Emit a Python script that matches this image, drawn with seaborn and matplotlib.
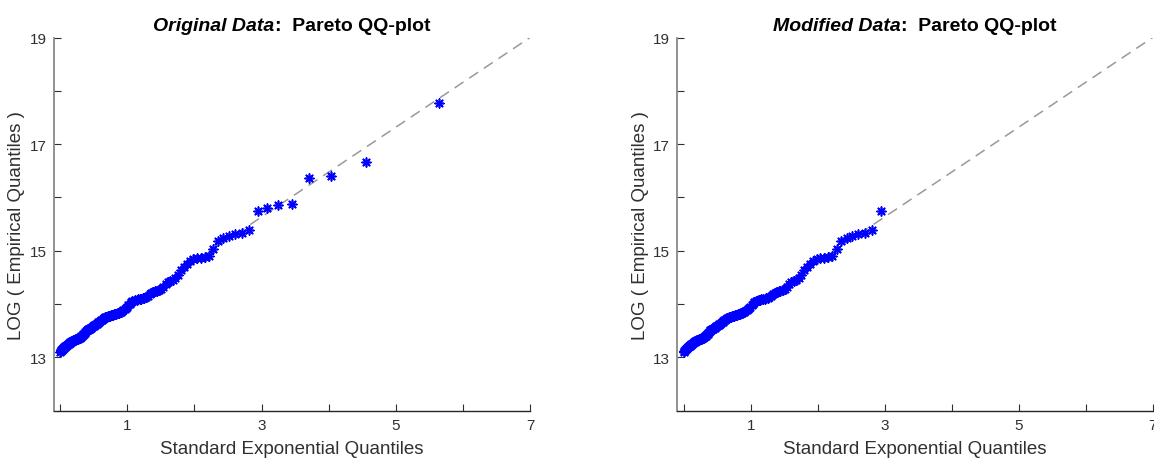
import numpy as np
import pandas as pd
import matplotlib
matplotlib.use('Agg')
import matplotlib.pyplot as plt
import seaborn as sns
from matplotlib.offsetbox import TextArea, HPacker, AnchoredOffsetbox

# sorted log values of the sample
log_values = [
    13.10, 13.12, 13.13, 13.14, 13.15, 13.16, 13.17, 13.18, 13.19, 13.20,
    13.21, 13.22, 13.22, 13.23, 13.24, 13.25, 13.26, 13.27, 13.27, 13.28,
    13.29, 13.29, 13.30, 13.31, 13.31, 13.32, 13.32, 13.33, 13.33, 13.34,
    13.34, 13.35, 13.35, 13.36, 13.36, 13.37, 13.38, 13.39, 13.40, 13.41,
    13.42, 13.43, 13.44, 13.46, 13.48, 13.50, 13.51, 13.52, 13.53, 13.54,
    13.54, 13.55, 13.56, 13.57, 13.58, 13.59, 13.60, 13.61, 13.62, 13.63,
    13.64, 13.66, 13.67, 13.68, 13.70, 13.71, 13.72, 13.73, 13.74, 13.75,
    13.76, 13.76, 13.77, 13.78, 13.78, 13.79, 13.80, 13.80, 13.81, 13.82,
    13.82, 13.83, 13.84, 13.85, 13.86, 13.87, 13.88, 13.90, 13.92, 13.95,
    13.98, 14.01, 14.03, 14.05, 14.06, 14.07, 14.08, 14.09, 14.10, 14.10,
    14.11, 14.12, 14.13, 14.15, 14.18, 14.21, 14.23, 14.24, 14.25, 14.26,
    14.28, 14.32, 14.37, 14.41, 14.43, 14.45, 14.48, 14.55, 14.63, 14.70,
    14.76, 14.81, 14.84, 14.86, 14.87, 14.88, 14.90, 15.03, 15.18, 15.24,
    15.28, 15.31, 15.34, 15.38, 15.74, 15.81, 15.86, 15.87, 16.37, 16.41,
    16.66, 17.78,
]
n_modified = 135  # modified data drops the 7 largest values

# reference line end points
ref_x = [0, 7]
ref_y = [13.11, 19.0]

titles = ['Original Data', 'Modified Data']
x_ticks = list(range(0, 8))
x_labels = ['', '1', '', '3', '', '5', '', '7']
y_ticks = list(range(13, 20))
y_labels = ['13', '', '15', '', '17', '', '19']

# standard exponential quantiles at plotting positions (i - 0.5) / n
n = len(log_values)
p = (np.arange(1, n + 1) - 0.5) / n
exp_q = -np.log(1 - p)

df = pd.DataFrame({'x': exp_q, 'y': log_values})
data_sets = [df, df.iloc[:n_modified]]

sns.set_theme(style='white')
plt.rcParams['font.family'] = ['Liberation Sans', 'DejaVu Sans']

fig = plt.figure(figsize=(11.54, 4.6), dpi=100)
positions = [[0.0464, 0.105, 0.4129, 0.8113], [0.5867, 0.105, 0.4121, 0.8113]]
text_col = '#303030'

for pos, title, d in zip(positions, titles, data_sets):
    ax = fig.add_axes(pos)
    ax.plot(ref_x, ref_y, color='#999999', lw=1.1, dashes=(7, 4.5), zorder=1)
    sns.scatterplot(data=d, x='x', y='y', ax=ax, marker=(8, 2, 0), s=40,
                    color='blue', edgecolor='blue', linewidth=1.2, zorder=2)
    ax.set_xlim(-0.1, 7)
    ax.set_ylim(12, 19)
    ax.set_xticks(x_ticks)
    ax.set_xticklabels(x_labels)
    ax.set_yticks(y_ticks)
    ax.set_yticklabels(y_labels)
    ax.tick_params(direction='in', length=5, width=0.8, colors=text_col,
                   labelsize=11, bottom=True, left=True)
    ax.tick_params(axis='x', pad=5)
    ax.tick_params(axis='y', pad=5)
    for s in ['top', 'right']:
        ax.spines[s].set_visible(False)
    ax.spines['left'].set_color('#7f7f7f')
    ax.spines['left'].set_linewidth(1.2)
    ax.spines['bottom'].set_color('#262626')
    ax.spines['bottom'].set_linewidth(1.0)
    ax.set_xlabel('Standard Exponential Quantiles', fontsize=13.5,
                  color=text_col, labelpad=6)
    ax.set_ylabel('LOG ( Empirical Quantiles )', fontsize=13.5,
                  color=text_col, labelpad=3)

    t1 = TextArea(title, textprops=dict(fontsize=14, fontweight='bold',
                                        fontstyle='italic', color='black'))
    t2 = TextArea(':  Pareto QQ-plot', textprops=dict(fontsize=14,
                                                      fontweight='bold',
                                                      color='black'))
    box = HPacker(children=[t1, t2], align='baseline', pad=0, sep=0)
    anchored = AnchoredOffsetbox(loc='lower center', child=box, pad=0,
                                 frameon=False, bbox_to_anchor=(0.5, 1.01),
                                 bbox_transform=ax.transAxes, borderpad=0)
    ax.add_artist(anchored)

plt.savefig('out.png', dpi=100)
plt.close()
